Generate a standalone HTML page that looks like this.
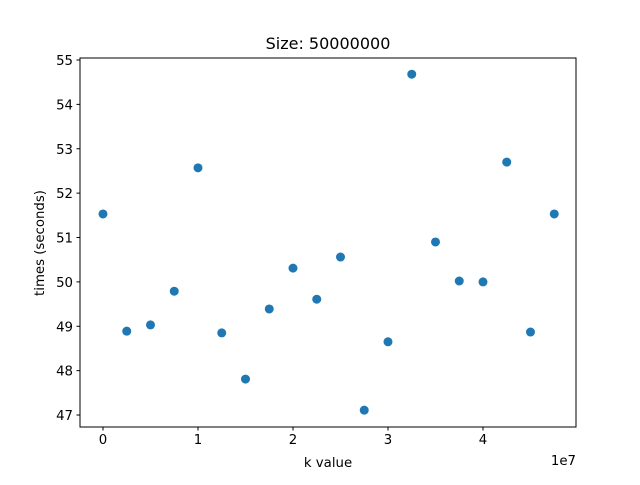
<!DOCTYPE html>
<html><head><meta charset="utf-8"><style>
body{margin:0;background:#fff;}
svg text{font-family:"DejaVu Sans","Liberation Sans",sans-serif;fill:#000;}
</style></head><body>
<svg id="chart" width="640" height="480" xmlns="http://www.w3.org/2000/svg">
<rect width="640" height="480" fill="#fff"/>
<text x="328" y="49" font-size="16" text-anchor="middle">Size: 50000000</text>
<text x="328" y="467" font-size="13.3" text-anchor="middle">k value</text>
<text x="576" y="465" font-size="13.3" text-anchor="end">1e7</text>
<text transform="translate(44,243) rotate(-90)" font-size="13.3" text-anchor="middle">times (seconds)</text>
<g id="marks"></g>
<rect x="80" y="58" width="496" height="369" fill="none" stroke="#000" stroke-width="1"/>
</svg>
<script>
const kValues=[0,2.5,5,7.5,10,12.5,15,17.5,20,22.5,25,27.5,30,32.5,35,37.5,40,42.5,45,47.5];
const times=[51.53,48.89,49.03,49.79,52.57,48.85,47.81,49.39,50.31,49.61,50.56,47.11,48.65,54.68,50.90,50.02,50.00,52.70,48.87,51.53];
const xTicks=[0,1,2,3,4];
const yTicks=[47,48,49,50,51,52,53,54,55];
const L=80,R=576,T=58,B=427;
const xMin=-2.42,xMax=49.79,yMin=46.73,yMax=55.045;
const sx=v=>L+(v-xMin)/(xMax-xMin)*(R-L);
const sy=v=>B-(v-yMin)/(yMax-yMin)*(B-T);
const NS="http://www.w3.org/2000/svg";
const g=document.getElementById('marks');
function mk(t,a){const e=document.createElementNS(NS,t);for(const k in a)e.setAttribute(k,a[k]);g.appendChild(e);return e;}
xTicks.forEach(t=>{const x=sx(t*10);
 const l=mk('line',{x1:x,x2:x,y1:B,y2:B+3.5,stroke:'#000'});
 
 
 const tx=mk('text',{x:x,y:B+17,'font-size':13.3,'text-anchor':'middle'});tx.textContent=t;
 
 });
yTicks.forEach(t=>{const y=sy(t);
 const l=mk('line',{x1:L-3.5,x2:L,y1:y,y2:y,stroke:'#000'});
 
 
 const tx=mk('text',{x:L-7,y:y+5,'font-size':13.3,'text-anchor':'end'});tx.textContent=t;
 
 });
kValues.forEach((k,i)=>{const c=mk('circle',{cx:sx(k),cy:sy(times[i]),r:4.5,fill:'#1f77b4'});
 
 });
</script>
</body></html>
